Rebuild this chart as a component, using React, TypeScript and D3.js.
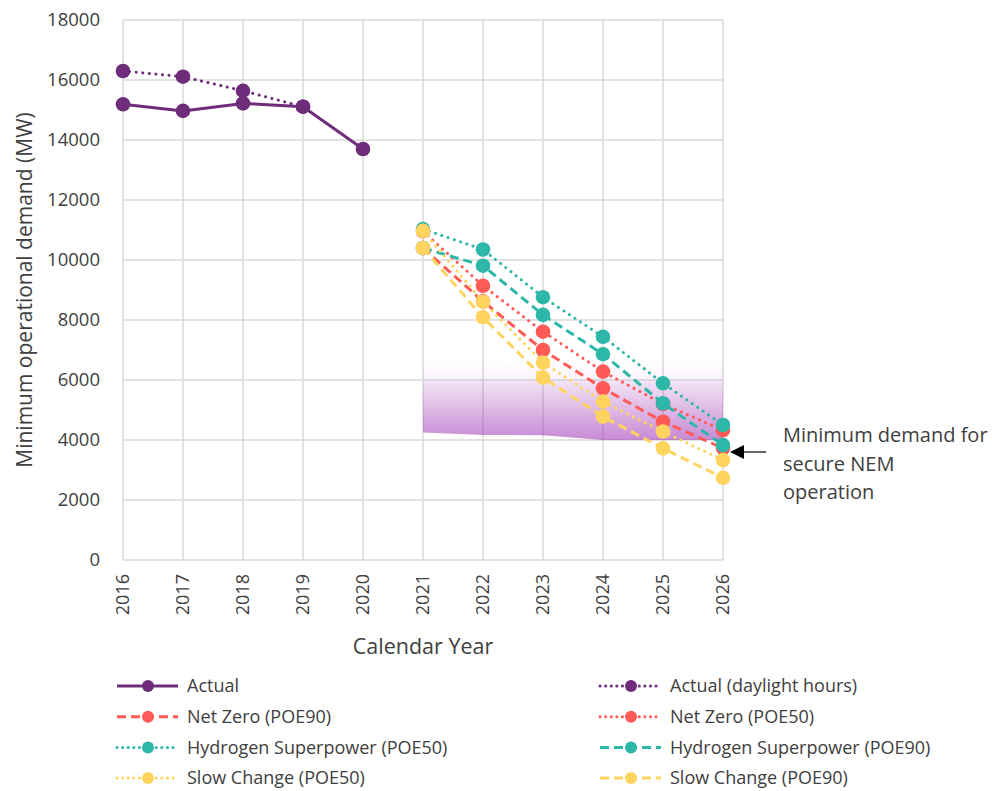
import React, { useEffect, useRef } from "react";
import * as d3 from "d3";

const years = [2016, 2017, 2018, 2019, 2020, 2021, 2022, 2023, 2024, 2025, 2026];
const yTicks = [0, 2000, 4000, 6000, 8000, 10000, 12000, 14000, 16000, 18000];

const actualYears = [2016, 2017, 2018, 2019, 2020];
const actual = [15190, 14970, 15220, 15110, 13700];
const daylightYears = [2016, 2017, 2018, 2019];
const daylight = [16300, 16110, 15640, 15110];

const projYears = [2021, 2022, 2023, 2024, 2025, 2026];
const netZero90 = [10400, 8620, 7000, 5720, 4610, 3730];
const netZero50 = [10960, 9140, 7610, 6280, 5200, 4330];
const hydrogen50 = [11030, 10350, 8760, 7440, 5890, 4500];
const hydrogen90 = [10400, 9810, 8170, 6860, 5220, 3830];
const slow50 = [10970, 8610, 6580, 5280, 4280, 3330];
const slow90 = [10400, 8090, 6080, 4780, 3720, 2740];

// secure operation band
const bandLow = [4250, 4170, 4160, 4000, 4000, 4000];
const bandHigh = [6650, 6650, 6650, 6650, 6650, 6650];

const PURPLE = "#6E2C7A";
const RED = "#FF5A55";
const TEAL = "#2DB7A9";
const YELLOW = "#FFD45E";

type Style = "solid" | "dot" | "dash";

const series: { name: string; xs: number[]; ys: number[]; color: string; style: Style }[] = [
  { name: "Actual", xs: actualYears, ys: actual, color: PURPLE, style: "solid" },
  { name: "Actual (daylight hours)", xs: daylightYears, ys: daylight, color: PURPLE, style: "dot" },
  { name: "Net Zero (POE90)", xs: projYears, ys: netZero90, color: RED, style: "dash" },
  { name: "Net Zero (POE50)", xs: projYears, ys: netZero50, color: RED, style: "dot" },
  { name: "Hydrogen Superpower (POE50)", xs: projYears, ys: hydrogen50, color: TEAL, style: "dot" },
  { name: "Hydrogen Superpower (POE90)", xs: projYears, ys: hydrogen90, color: TEAL, style: "dash" },
  { name: "Slow Change (POE50)", xs: projYears, ys: slow50, color: YELLOW, style: "dot" },
  { name: "Slow Change (POE90)", xs: projYears, ys: slow90, color: YELLOW, style: "dash" },
];

const FONT = "'Open Sans', 'Noto Sans', sans-serif";
const TEXT = "#404040";

const dashFor = (s: Style) => (s === "dot" ? "0.1 6.5" : s === "dash" ? "9 5" : null);

const App: React.FC = () => {
  const svgRef = useRef<SVGSVGElement | null>(null);

  useEffect(() => {
    const width = 992;
    const height = 791;
    const margin = { top: 20, right: 270, bottom: 231, left: 123 };

    const svg = d3.select(svgRef.current);
    svg.selectAll("*").remove();
    svg.attr("width", width).attr("height", height);

    const x = d3
      .scaleLinear()
      .domain([2016, 2026])
      .range([margin.left, width - margin.right + 1]);
    const y = d3
      .scaleLinear()
      .domain([0, 18000])
      .range([height - margin.bottom, margin.top]);

    // gradient for the band
    const defs = svg.append("defs");
    const grad = defs
      .append("linearGradient")
      .attr("id", "band")
      .attr("x1", 0)
      .attr("y1", 0)
      .attr("x2", 0)
      .attr("y2", 1);
    grad.append("stop").attr("offset", "0%").attr("stop-color", "#A035B5").attr("stop-opacity", 0);
    grad.append("stop").attr("offset", "24%").attr("stop-color", "#A035B5").attr("stop-opacity", 0.06);
    grad.append("stop").attr("offset", "27%").attr("stop-color", "#A035B5").attr("stop-opacity", 0.14);
    grad.append("stop").attr("offset", "100%").attr("stop-color", "#A035B5").attr("stop-opacity", 0.58);

    // Gridlines
    const grid = svg.append("g").attr("stroke", "#D9D9D9").attr("stroke-width", 1.5);
    grid
      .selectAll("line.h")
      .data(yTicks)
      .join("line")
      .attr("x1", x(2016))
      .attr("x2", x(2026))
      .attr("y1", d => y(d))
      .attr("y2", d => y(d));
    grid
      .selectAll("line.v")
      .data(years)
      .join("line")
      .attr("x1", d => x(d))
      .attr("x2", d => x(d))
      .attr("y1", y(18000))
      .attr("y2", y(0));

    // Band
    const area = d3
      .area<number>()
      .x((_, i) => x(projYears[i]))
      .y0((_, i) => y(bandLow[i]))
      .y1((_, i) => y(bandHigh[i]));
    svg.append("path").datum(bandLow).attr("d", area).attr("fill", "url(#band)");

    // Y Axis labels
    svg
      .append("g")
      .selectAll("text")
      .data(yTicks)
      .join("text")
      .attr("x", x(2016) - 23)
      .attr("y", d => y(d))
      .attr("dy", "0.35em")
      .attr("text-anchor", "end")
      .attr("font-family", FONT)
      .attr("font-size", "18.5px")
      .attr("fill", TEXT)
      .text(d => String(d));

    // X Axis labels (rotated)
    svg
      .append("g")
      .selectAll("text")
      .data(years)
      .join("text")
      .attr("transform", d => `translate(${x(d)},${y(0) + 14}) rotate(-90)`)
      .attr("dy", "0.35em")
      .attr("text-anchor", "end")
      .attr("font-family", FONT)
      .attr("font-size", "18px")
      .attr("fill", TEXT)
      .text(d => String(d));

    // Axis titles
    svg
      .append("text")
      .attr("transform", `translate(25,${(y(0) + y(18000)) / 2 + 0}) rotate(-90)`)
      .attr("text-anchor", "middle")
      .attr("dy", "0.35em")
      .attr("font-family", FONT)
      .attr("font-size", "21px")
      .attr("fill", TEXT)
      .text("Minimum operational demand (MW)");
    svg
      .append("text")
      .attr("x", (x(2016) + x(2026)) / 2)
      .attr("y", 646)
      .attr("dy", "0.35em")
      .attr("text-anchor", "middle")
      .attr("font-family", FONT)
      .attr("font-size", "21.5px")
      .attr("fill", TEXT)
      .text("Calendar Year");

    // Lines and markers
    const line = d3
      .line<[number, number]>()
      .x(d => x(d[0]))
      .y(d => y(d[1]));

    series.forEach(s => {
      const pts: [number, number][] = s.xs.map((yr, i) => [yr, s.ys[i]]);
      const g = svg.append("g");
      const p = g
        .append("path")
        .datum(pts)
        .attr("d", line)
        .attr("fill", "none")
        .attr("stroke", s.color)
        .attr("stroke-width", 3)
        .attr("stroke-linecap", s.style === "dot" ? "round" : "butt");
      const dash = dashFor(s.style);
      if (dash) p.attr("stroke-dasharray", dash);
      g.selectAll("circle")
        .data(pts)
        .join("circle")
        .attr("cx", d => x(d[0]))
        .attr("cy", d => y(d[1]))
        .attr("r", 7.3)
        .attr("fill", s.color);
    });

    // Annotation
    const ax = x(2026) + 7;
    const ay = 452;
    svg
      .append("line")
      .attr("x1", ax + 10)
      .attr("x2", 766)
      .attr("y1", ay)
      .attr("y2", ay)
      .attr("stroke", "#000")
      .attr("stroke-width", 1.2);
    svg
      .append("path")
      .attr("d", `M${ax},${ay} L${ax + 14},${ay - 7} L${ax + 14},${ay + 7} Z`)
      .attr("fill", "#000");
    const note = svg
      .append("text")
      .attr("x", 783)
      .attr("y", 435)
      .attr("font-family", FONT)
      .attr("font-size", "20px")
      .attr("fill", TEXT);
    ["Minimum demand for", "secure NEM", "operation"].forEach((t, i) => {
      note.append("tspan").attr("x", 783).attr("dy", i === 0 ? "0.35em" : "28.5px").text(t);
    });

    // Legend
    const legend = svg.append("g");
    series.forEach((s, i) => {
      const col = i % 2;
      const row = Math.floor(i / 2);
      const lx = col === 0 ? 117 : 600;
      const ly = 686 + row * 30.7;
      const l = legend
        .append("line")
        .attr("x1", lx)
        .attr("x2", lx + 61)
        .attr("y1", ly)
        .attr("y2", ly)
        .attr("stroke", s.color)
        .attr("stroke-width", 3)
        .attr("stroke-linecap", s.style === "dot" ? "round" : "butt");
      const dash = s.style === "dot" ? "0.1 5.5" : s.style === "dash" ? "9 5" : null;
      if (dash) l.attr("stroke-dasharray", dash);
      legend
        .append("circle")
        .attr("cx", lx + 31)
        .attr("cy", ly)
        .attr("r", 6)
        .attr("fill", s.color);
      legend
        .append("text")
        .attr("x", lx + 70)
        .attr("y", ly)
        .attr("dy", "0.35em")
        .attr("font-family", FONT)
        .attr("font-size", "18px")
        .attr("fill", TEXT)
        .text(s.name);
    });
  }, []);

  return (
    <div style={{ position: "absolute", left: 0, top: 0, background: "#fff" }}>
      <svg ref={svgRef} style={{ display: "block" }}></svg>
    </div>
  );
};

export default App;
